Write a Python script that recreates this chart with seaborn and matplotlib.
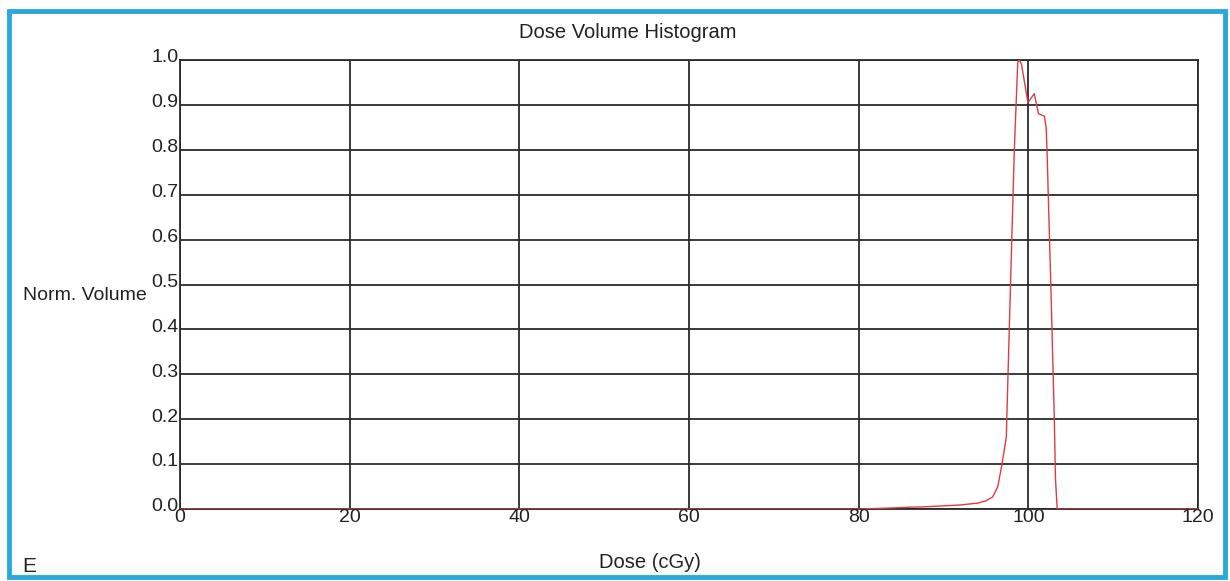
import matplotlib
matplotlib.use("Agg")
import matplotlib.pyplot as plt
import matplotlib.transforms as mtransforms
from matplotlib.patches import Rectangle
import numpy as np
import pandas as pd
import seaborn as sns

# Differential dose-volume curve (dose in cGy, normalized volume)
dose = [0, 20, 40, 60, 80, 83.5, 86, 88, 90, 92, 94, 95, 95.8, 96.4, 96.9,
        97.4, 97.9, 98.35, 98.75, 98.95, 99.2, 99.95, 100.7, 101.2, 101.9,
        102.1, 102.2, 102.65, 103.05, 103.2, 103.4, 110, 120]
volume = [0, 0, 0, 0, 0, 0.002, 0.004, 0.005, 0.007, 0.009, 0.013, 0.018,
          0.027, 0.05, 0.10, 0.16, 0.50, 0.80, 0.995, 1.0, 0.99, 0.905, 0.925,
          0.88, 0.875, 0.85, 0.80, 0.50, 0.21, 0.067, 0.0, 0, 0]

x_ticks = [0, 20, 40, 60, 80, 100, 120]
y_ticks = [0.0, 0.1, 0.2, 0.3, 0.4, 0.5, 0.6, 0.7, 0.8, 0.9, 1.0]

sns.set_style("white")
plt.rcParams["font.family"] = ["Liberation Sans", "DejaVu Sans"]

fig = plt.figure(figsize=(12.3, 5.81), dpi=100)
ax = fig.add_axes([180 / 1230, 1 - 509 / 581, (1198 - 180) / 1230, (509 - 60) / 581])

df = pd.DataFrame({"dose": dose, "volume": volume})
sns.lineplot(data=df, x="dose", y="volume", ax=ax, color="#e03a48",
             linewidth=1.0, zorder=3)

ax.set_xlim(0, 120)
ax.set_ylim(0, 1.0)
ax.set_xticks(x_ticks)
ax.set_xticklabels([str(t) for t in x_ticks])
ax.set_yticks(y_ticks)
ax.set_yticklabels([f"{t:.1f}" for t in y_ticks])

ax.grid(True, color="#2b2b2b", linewidth=1.3)
ax.set_axisbelow(True)
for s in ax.spines.values():
    s.set_color("#2b2b2b")
    s.set_linewidth(1.3)

ax.tick_params(axis="both", length=0, labelsize=14, colors="#222222")
ax.tick_params(axis="x", pad=1)
ax.tick_params(axis="y", pad=1)

# nudge the y labels so they sit just above their grid lines
up = mtransforms.ScaledTranslation(0, 3 / 72, fig.dpi_scale_trans)
for lab in ax.get_yticklabels():
    lab.set_transform(lab.get_transform() + up)
down = mtransforms.ScaledTranslation(0, 1 / 72, fig.dpi_scale_trans)
for lab in ax.get_xticklabels():
    lab.set_transform(lab.get_transform() + down)

ax.set_xlabel("")
ax.set_ylabel("")

fig.text(628 / 1230, 1 - 32 / 581, "Dose Volume Histogram", ha="center",
         va="center", fontsize=14.5, color="#222222")
fig.text(650 / 1230, 1 - 562 / 581, "Dose (cGy)", ha="center", va="center",
         fontsize=14.5, color="#222222")
fig.text(23 / 1230, 1 - 295 / 581, "Norm. Volume", ha="left", va="center",
         fontsize=14, color="#222222")
fig.text(22 / 1230, 1 - 566 / 581, "E", ha="left", va="center",
         fontsize=15, color="#222222")

# outer panel frame
fig.patches.append(Rectangle((9 / 1230, 1 - 577 / 581), (1225 - 9) / 1230,
                             (577 - 11) / 581, transform=fig.transFigure,
                             fill=False, edgecolor="#2aa8dc", linewidth=3.5))

fig.savefig("out.png", dpi=100, facecolor="white")
